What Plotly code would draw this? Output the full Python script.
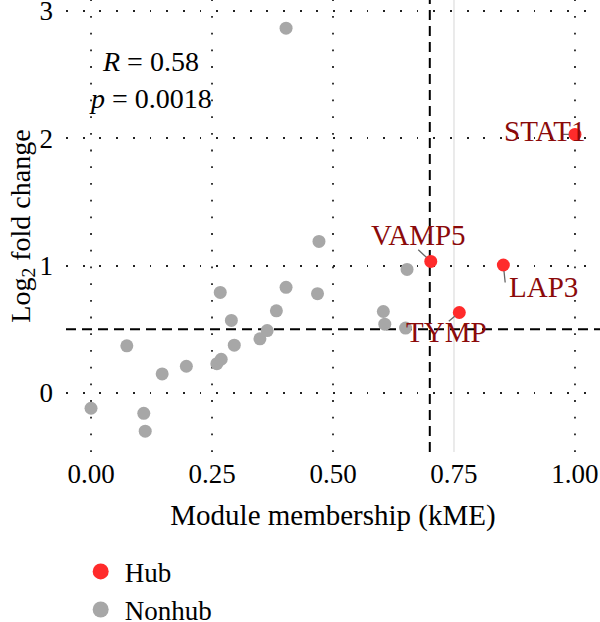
import plotly.graph_objects as go

# ---------------- data ----------------
nonhub_kme = [0.000, 0.074, 0.109, 0.112, 0.147, 0.197, 0.260, 0.269, 0.267, 0.290,
              0.296, 0.349, 0.364, 0.383, 0.403, 0.403, 0.471, 0.468, 0.604, 0.607,
              0.650, 0.653]
nonhub_lfc = [-0.12, 0.37, -0.16, -0.30, 0.15, 0.21, 0.23, 0.265, 0.79, 0.57,
              0.375, 0.425, 0.49, 0.645, 0.83, 2.865, 1.19, 0.78, 0.64, 0.54,
              0.51, 0.97]

hub_genes = ["STAT1", "VAMP5", "LAP3", "TYMP"]
hub_kme = [1.000, 0.702, 0.852, 0.761]
hub_lfc = [2.03, 1.033, 1.005, 0.632]

kme_threshold = 0.70
lfc_threshold = 0.5

x_ticks = [0.00, 0.25, 0.50, 0.75, 1.00]
x_ticklabels = ["0.00", "0.25", "0.50", "0.75", "1.00"]
y_ticks = [0, 1, 2, 3]
y_ticklabels = ["0", "1", "2", "3"]

stat_lines = ["<i>R</i> = 0.58", "<i>p</i> = 0.0018"]
stat_pos_x = 0.122
stat_pos_y = [2.60, 2.31]

# label placement offsets (pixels): text shift and connector start
label_shift = {"STAT1": (-30, 3), "VAMP5": (-12, 26), "LAP3": (40, -22), "TYMP": (-13, -19)}
connector_start = {"STAT1": (-14, 0), "VAMP5": (-14, -13), "LAP3": (2, 19), "TYMP": (-12, 10)}

FONT = "Liberation Serif"
GREY = "#A7A7A7"
RED = "#FF2B2B"
DARKRED = "#8B0A0A"

fig = go.Figure()

fig.add_trace(go.Scatter(x=nonhub_kme, y=nonhub_lfc, mode="markers",
                         marker=dict(size=13, color=GREY), showlegend=False,
                         hoverinfo="skip"))
fig.add_trace(go.Scatter(x=hub_kme, y=hub_lfc, mode="markers",
                         marker=dict(size=13, color=RED), showlegend=False,
                         hoverinfo="skip"))
# legend-only entries
fig.add_trace(go.Scatter(x=[None], y=[None], mode="markers", name="Hub",
                         marker=dict(size=18, color=RED)))
fig.add_trace(go.Scatter(x=[None], y=[None], mode="markers", name="Nonhub",
                         marker=dict(size=18, color=GREY)))

# vertical grid lines from tick list
for xv in x_ticks:
    if abs(xv - 0.75) < 1e-9:
        fig.add_vline(x=xv, line=dict(color="#E4E4E4", width=1.5), layer="below")
    else:
        fig.add_vline(x=xv, line=dict(color="#222222", width=1.8, dash="1.8px,14.9px"),
                      layer="below")

# threshold lines
fig.add_vline(x=kme_threshold, line=dict(color="black", width=2, dash="10px,6px"), layer="below")
fig.add_hline(y=lfc_threshold, line=dict(color="black", width=2, dash="10px,6px"), layer="below")

# connectors and labels
for g, xv, yv in zip(hub_genes, hub_kme, hub_lfc):
    ax, ay = connector_start[g]
    fig.add_annotation(x=xv, y=yv, text="", showarrow=True, arrowhead=0,
                       arrowwidth=1.3, arrowcolor="#666666", ax=ax, ay=ay,
                       standoff=6)
    dx, dy = label_shift[g]
    fig.add_annotation(x=xv, y=yv, text=g, showarrow=False, xshift=dx, yshift=dy,
                       font=dict(family=FONT, size=29, color=DARKRED))

for t, yv in zip(stat_lines, stat_pos_y):
    fig.add_annotation(x=stat_pos_x, y=yv, text=t, showarrow=False,
                       font=dict(family=FONT, size=28, color="black"))

fig.update_layout(
    width=600, height=622,
    margin=dict(l=66, r=0, t=0, b=170, autoexpand=False),
    paper_bgcolor="white", plot_bgcolor="white",
    font=dict(family=FONT, color="black"),
    showlegend=True,
    legend=dict(x=0.02, y=-0.211, xanchor="left", yanchor="top",
                font=dict(family=FONT, size=27), bgcolor="rgba(0,0,0,0)",
                itemwidth=38),
    xaxis=dict(range=[-0.0517, 1.0517], tickvals=x_ticks, ticktext=x_ticklabels,
               showgrid=False, zeroline=False, showline=False, ticks="",
               ticklabelstandoff=3, automargin=False,
               tickfont=dict(family=FONT, size=27),
               title=dict(text="Module membership (kME)", standoff=16,
                          font=dict(family=FONT, size=29))),
    yaxis=dict(range=[-0.4635, 3.086], tickvals=y_ticks, ticktext=y_ticklabels,
               showgrid=True, gridcolor="#222222", gridwidth=1.8,
               griddash="1.8px,14.9px", zeroline=False, showline=False, ticks="",
               ticklabelstandoff=12, automargin=False, ticklabeloverflow="allow",
               tickfont=dict(family=FONT, size=27),
               title=dict(text="Log<sub>2</sub> fold change", standoff=0,
                          font=dict(family=FONT, size=28))),
)

fig.write_html("out.html")
